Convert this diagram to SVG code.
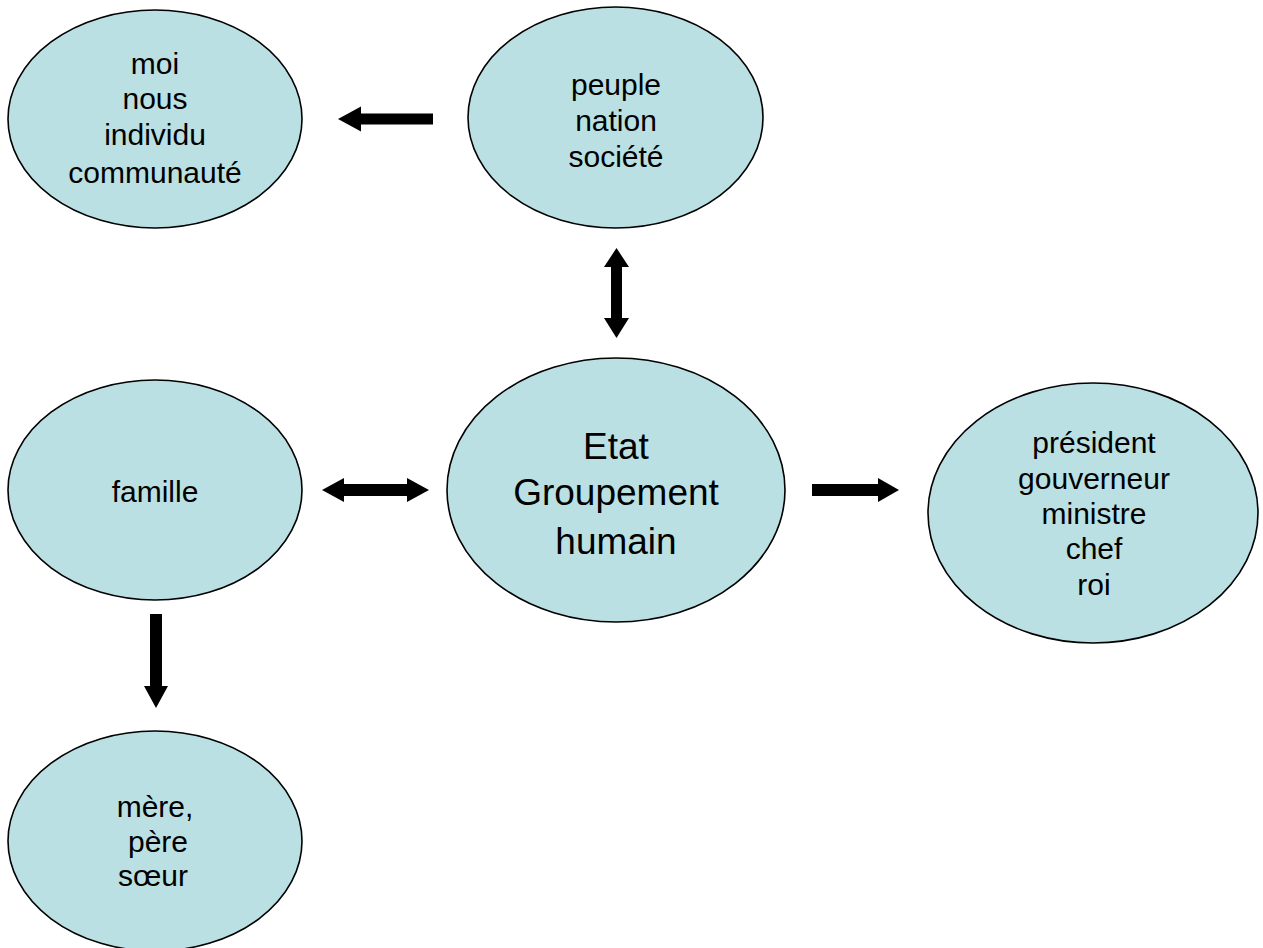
<svg xmlns="http://www.w3.org/2000/svg" width="1263" height="948" viewBox="0 0 1263 948">
<style>
.node{fill:#BBE0E3;stroke:#000;stroke-width:1.6}
.t{font-family:"Liberation Sans",Arial,sans-serif;font-size:30px;fill:#000;text-anchor:middle}
.big{font-size:37px}
.arr{fill:#000;stroke:none}
</style>
<rect width="1263" height="948" fill="#fff"/>
<g id="connectors">
<polygon class="arr" points="338,119 361,106.5 361,113.5 433,113.5 433,124.5 361,124.5 361,131.5"/>
<polygon class="arr" points="616.5,248 629,267 622,267 622,318 629,318 616.5,338 604,318 611,318 611,267 604,267"/>
<polygon class="arr" points="322,490 344,478 344,484 407,484 407,478 429,490 407,502 407,496 344,496 344,502"/>
<polygon class="arr" points="812,484 878,484 878,478 899,490 878,502 878,496 812,496"/>
<polygon class="arr" points="150,614 162,614 162,686 168,686 156,708 144,686 150,686"/>
</g>
<g id="moi">
<ellipse class="node" cx="155" cy="119" rx="147" ry="109"/>
<text class="t" x="155" y="74">moi</text>
<text class="t" x="155" y="109">nous</text>
<text class="t" x="155" y="145">individu</text>
<text class="t" x="155" y="183">communauté</text>
</g>
<g id="peuple">
<ellipse class="node" cx="615.5" cy="117.5" rx="147.5" ry="110.5"/>
<text class="t" x="616" y="95">peuple</text>
<text class="t" x="616" y="131">nation</text>
<text class="t" x="616" y="167">société</text>
</g>
<g id="famille">
<ellipse class="node" cx="155" cy="490" rx="147" ry="110"/>
<text class="t" x="155" y="502">famille</text>
</g>
<g id="etat">
<ellipse class="node" cx="616" cy="490" rx="169" ry="132"/>
<text class="t big" x="616" y="459">Etat</text>
<text class="t big" x="616" y="505">Groupement</text>
<text class="t big" x="616" y="554">humain</text>
</g>
<g id="president">
<ellipse class="node" cx="1093" cy="513" rx="165" ry="130"/>
<text class="t" x="1094" y="453">président</text>
<text class="t" x="1094" y="489">gouverneur</text>
<text class="t" x="1094" y="524">ministre</text>
<text class="t" x="1094" y="559">chef</text>
<text class="t" x="1094" y="595">roi</text>
</g>
<g id="mere">
<ellipse class="node" cx="155" cy="841" rx="147" ry="110"/>
<text class="t" x="155" y="817">mère,</text>
<text class="t" x="158" y="852">père</text>
<text class="t" x="153" y="886">sœur</text>
</g>
</svg>
